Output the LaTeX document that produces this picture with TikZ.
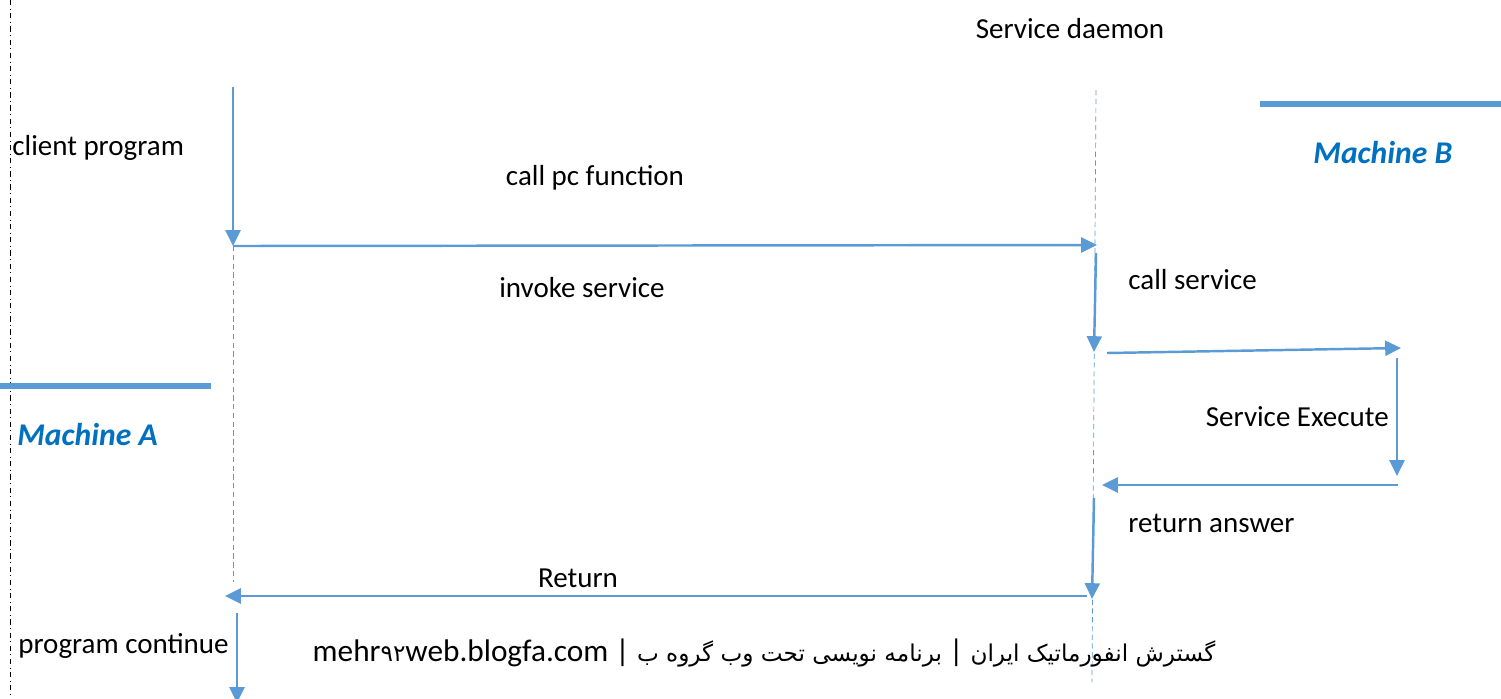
\documentclass[tikz,border=0pt]{standalone}
\usepackage{fontspec}
\setmainfont{Carlito}
\newfontfamily\arabicfont[Script=Arabic,Scale=0.74]{DejaVu Sans}
\TeXXeTstate=1
\usepackage{xcolor}
\usetikzlibrary{arrows.meta,positioning}
\definecolor{flowblue}{HTML}{5B9BD5}
\definecolor{machineblue}{HTML}{0070C0}

\begin{document}
\begin{tikzpicture}[
    x=0.02cm, y=-0.02cm,
    every node/.style={font=\fontsize{16.5}{20}\selectfont, inner sep=0pt},
    msg/.style={draw=flowblue, line width=1.4pt, -{Triangle[length=9pt,width=8.5pt]}},
    lifeline/.style={draw=flowblue, line width=0.4pt, densely dashed},
    bar/.style={draw=flowblue, line width=3.5pt},
    machine/.style={font=\fontsize{18}{21}\selectfont\bfseries\itshape, text=machineblue, anchor=west},
    lefttext/.style={anchor=west}
]
    \useasboundingbox (0,0) rectangle (1501,698);

    % page margin
    \draw[black, line width=0.5pt, dash dot] (10,0) -- (10,698);

    % === MACHINE A / MACHINE B ===
    \draw[bar] (0,386) -- (211,386);
    \node[machine] (machA) at (17,435) {Machine A};
    \draw[bar] (1260,104) -- (1501,104);
    \node[machine] (machB) at (1313,153) {Machine B};

    % === LIFELINES ===
    \coordinate (clientTop) at (233,87);
    \coordinate (clientCall) at (233,246);
    \coordinate (clientLow) at (233,582);
    \coordinate (daemonTop) at (1096,90);
    \coordinate (daemonLow) at (1092,682);
    \draw[lifeline] (clientCall) -- (clientLow);
    \draw[lifeline] (daemonTop) -- (daemonLow);

    \node (daemon) at (1070,29) {Service daemon};
    \node[lefttext] (client) at (12,148) {client program};

    % === CALL ===
    \coordinate (daemonIn) at (1097,245);
    \draw[msg] (clientTop) -- (clientCall);
    \draw[msg] (clientCall) -- (daemonIn);
    \node (callpc) at (595,178) {call pc function};
    \node (invoke) at (582,288) {invoke service};

    % === SERVICE ===
    \coordinate (svcTop) at (1096,253);
    \coordinate (svcCall) at (1094,352);
    \coordinate (execStart) at (1107,353);
    \coordinate (execIn) at (1401,348);
    \coordinate (execTop) at (1397,358);
    \coordinate (execEnd) at (1397,476);
    \coordinate (answerStart) at (1398,485);
    \coordinate (answerIn) at (1102,485);
    \draw[msg] (svcTop) -- (svcCall);
    \draw[msg] (execStart) -- (execIn);
    \draw[msg] (execTop) -- (execEnd);
    \draw[msg] (answerStart) -- (answerIn);
    \node[lefttext] (callsvc) at (1128,280) {call service};
    \node[anchor=east] (execute) at (1389,417) {Service Execute};
    \node[lefttext] (answer) at (1128,523) {return answer};

    % === RETURN ===
    \coordinate (retTop) at (1094,498);
    \coordinate (retDown) at (1092,599);
    \coordinate (backStart) at (1087,596);
    \coordinate (backIn) at (225,596);
    \coordinate (contTop) at (237,613);
    \coordinate (contEnd) at (237,703);
    \draw[msg] (retTop) -- (retDown);
    \draw[msg] (backStart) -- (backIn);
    \draw[msg] (contTop) -- (contEnd);
    \node (return) at (578,578) {Return};
    \node[lefttext] (continue) at (18,646) {program continue};

    % credit line
    \node[font=\fontsize{17.8}{21}\selectfont] (credit) at (764,653) {mehr{\arabicfont ۹۲}web.blogfa.com | {\arabicfont\beginR برنامه نویسی تحت وب گروه ب\endR} | {\arabicfont\beginR گسترش انفورماتیک ایران\endR}};
\end{tikzpicture}
\end{document}
